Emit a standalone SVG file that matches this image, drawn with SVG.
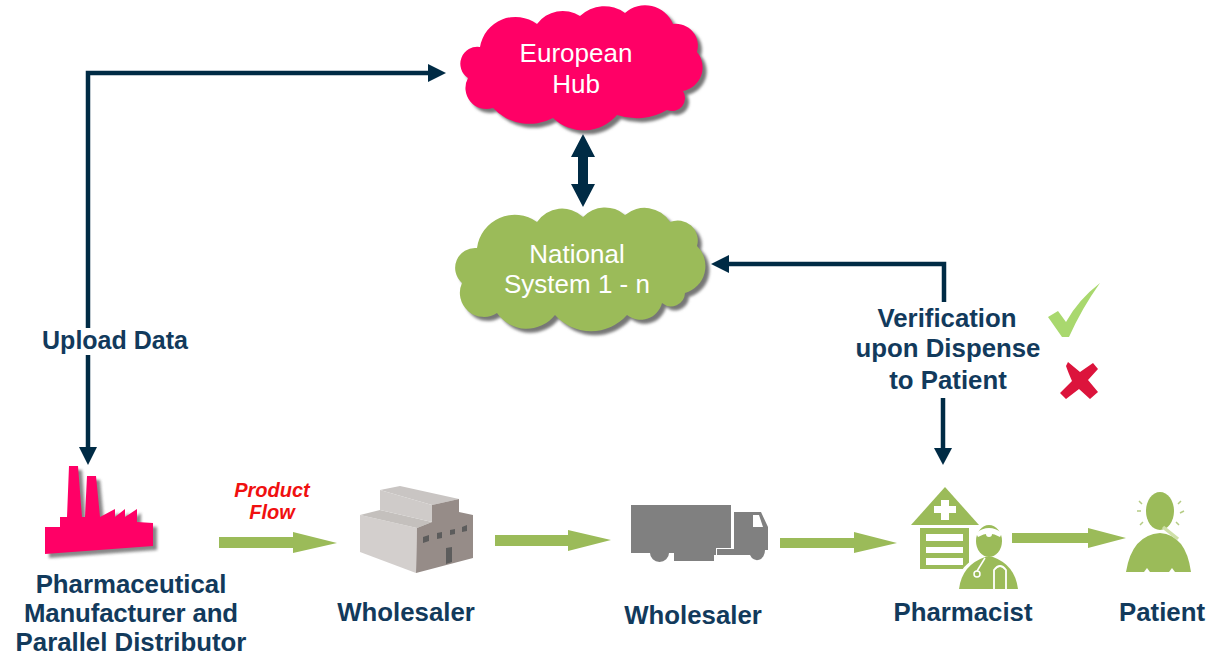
<svg xmlns="http://www.w3.org/2000/svg" width="1209" height="657" viewBox="0 0 1209 657">
<style>
text{font-family:"Liberation Sans",Arial,sans-serif;text-anchor:middle}
.lbl{font-size:25.8px;font-weight:bold;fill:#123a5c}
.cl{font-size:26px;fill:#fff}
.pf{font-size:20px;font-weight:bold;font-style:italic;fill:#f01010}
.nav{fill:none;stroke:#002b45;stroke-width:4.5}
.navh{fill:#002b45}
.g{fill:#9bbb59}
.w{fill:#fff}
</style>
<defs>
<filter id="sh" x="-10%" y="-10%" width="120%" height="120%"><feGaussianBlur stdDeviation="1.5"/></filter>
<path id="eu" d="M480 47A36 36 0 0 1 537 24A32 32 0 0 1 580 16A35 35 0 0 1 625 13A30 30 0 0 1 673 24A22 22 0 0 1 697 52A24 24 0 0 1 683 91A13 13 0 0 1 667 110A60 60 0 0 1 617 115A44 44 0 0 1 553 118A50 50 0 0 1 493 108A21 21 0 0 1 468 78A17 17 0 0 1 480 47Z"/>
<path id="na" d="M477 248A38 38 0 0 1 537 222A30 30 0 0 1 583 217A30 30 0 0 1 625 215A30 30 0 0 1 670 222A20 20 0 0 1 697 246A28 28 0 0 1 685 293A14 14 0 0 1 662 303A22 22 0 0 1 627 315A48 48 0 0 1 555 315A36 36 0 0 1 497 313A24 24 0 0 1 462 283A20 20 0 0 1 477 248Z"/>
</defs>
<rect width="1209" height="657" fill="#fff"/>
<g id="connectors">
<path class="nav" d="M88 328V73H430"/>
<path class="nav" d="M88 355V448"/>
<path class="navh" d="M428 64L446 73L428 82Z"/>
<path class="navh" d="M79 447H97L88 465Z"/>
<path class="navh" d="M583 134L595 157H588V184H595L583 207L571 184H578V157H571Z"/>
<path class="nav" d="M944 302V264H727"/>
<path class="navh" d="M729 255L711 264L729 273Z"/>
<path class="nav" d="M943 398V450"/>
<path class="navh" d="M934 448H952L943 465Z"/>
<path class="g" d="M219 537H293V532L337 543L293 553V548H219Z"/>
<path class="g" d="M495 535H568V530L611 540L568 551V546H495Z"/>
<path class="g" d="M780 538H854V532L897 543L854 553V548H780Z"/>
<path class="g" d="M1012 533H1088V528L1126 538L1088 548V543H1012Z"/>
</g>
<g id="european-hub">
<use href="#eu" transform="translate(4 4)" fill="#777" filter="url(#sh)"/>
<use href="#eu" fill="#ff0066"/>
<text class="cl" x="576" y="62">European</text>
<text class="cl" x="576" y="93">Hub</text>
</g>
<g id="national-system">
<use href="#na" transform="translate(4 4)" fill="#777" filter="url(#sh)"/>
<use href="#na" class="g"/>
<text class="cl" x="577" y="263">National</text>
<text class="cl" x="577" y="293">System 1 - n</text>
</g>
<g id="upload-label"><text class="lbl" style="font-size:25px" x="115" y="349">Upload Data</text></g>
<g id="verification-label">
<text class="lbl" x="947" y="327">Verification</text>
<text class="lbl" x="948" y="357">upon Dispense</text>
<text class="lbl" x="948" y="389">to Patient</text>
</g>
<g id="check-mark"><path fill="#a9d86e" d="M1048 317L1058 311L1066 322Q1078 300 1100 283Q1082 308 1069 337H1062Z"/></g>
<g id="cross-mark"><path fill="#dc143c" d="M1068 362L1080 372L1093 363L1098 369L1088 380L1098 392L1090 399L1079 389L1066 399L1060 393L1072 381Q1068 372 1066 366Z"/></g>
<g id="manufacturer">
<path fill="#555" opacity=".7" transform="translate(4 4)" filter="url(#sh)" d="M45 527H60V517H67L69 466H78L82 517H85L87 476H96L100 517L115 509V517L125 509V517L137 509V522L153 523V546L45 554Z"/>
<path fill="#ff0066" d="M45 527H60V517H67L69 466H78L82 517H85L87 476H96L100 517L115 509V517L125 509V517L137 509V522L153 523V546L45 554Z"/>
<text class="lbl" x="131" y="593">Pharmaceutical</text>
<text class="lbl" x="131" y="622" textLength="214">Manufacturer and</text>
<text class="lbl" x="131" y="651">Parallel Distributor</text>
</g>
<g id="product-flow"><text class="pf" x="272" y="497">Product</text><text class="pf" x="272" y="519">Flow</text></g>
<g id="wholesaler-1">
<path fill="#d3cfcd" d="M360 515L417 528L416 573L360 552Z"/>
<path fill="#c4c0bd" d="M360 515L380 510L432 522L417 528Z"/>
<path fill="#c9c5c3" d="M380 490L400 486L459 499L432 505Z"/>
<path fill="#cfcbc9" d="M380 490L432 505V522L380 510Z"/>
<path fill="#968c88" d="M432 505L459 499V512L473 515V558L416 573L417 528L432 522Z"/>
<path fill="#5c5c5c" d="M423 537L429 535V541L423 543ZM437 533L442 532V538L437 539ZM450 530L455 529V534L450 535ZM462 527L467 525V531L462 532ZM446 548L452 547V562L446 564Z"/>
<text class="lbl" x="406" y="621">Wholesaler</text>
</g>
<g id="wholesaler-2">
<path fill="#808080" d="M631 505H731V548H716V555H714V561H674V553H669A9.500 9 0 0 1 650 553H631Z"/>
<path fill="#808080" d="M734 512H761L768 527V550H765A8 10 0 0 1 750 555H717V549H734Z"/>
<path class="w" d="M753 515H759L763 527H753Z"/>
<text class="lbl" x="693" y="624">Wholesaler</text>
</g>
<g id="pharmacist">
<path class="g" d="M945 487L979 525H911Z"/>
<path class="w" d="M941 500H949V506H956V513H949V520H941V513H934V506H941Z"/>
<path class="g" d="M920 528H969V569H920Z"/>
<path class="w" d="M926 534H963V541H926ZM926 547H963V553H926ZM926 558H963V565H926Z"/>
<ellipse class="w" cx="989" cy="541" rx="17" ry="19"/>
<path class="w" d="M955 590Q958 562 985 555H995Q1020 562 1022 590Z"/>
<ellipse class="g" cx="989" cy="541" rx="13" ry="16"/>
<path class="w" d="M976 533Q989 523 1002 533L1000 537Q989 530 978 537Z"/>
<circle class="w" cx="989" cy="534" r="3"/>
<path class="g" d="M959 589Q962 565 985 557H993Q1015 565 1018 589Z"/>
<path d="M994 589V570Q1000 562 1006 570V589" fill="none" stroke="#fff" stroke-width="1.8"/>
<circle cx="977" cy="574" r="3" fill="none" stroke="#fff" stroke-width="1.5"/>
<path d="M977 571L985 558" fill="none" stroke="#fff" stroke-width="1.5"/>
<text class="lbl" x="963" y="621">Pharmacist</text>
</g>
<g id="patient">
<ellipse class="g" cx="1160" cy="511" rx="14" ry="19"/>
<path class="g" d="M1126 572Q1132 535 1160 533Q1186 535 1191 572H1175L1172 568L1169 572H1150L1147 568L1144 572Z"/>
<path d="M1163 527L1178 539" fill="none" stroke="#cfe0a8" stroke-width="3.500"/>
<path d="M1139 501L1142 504M1137 511H1141M1140 525L1143 522M1181 501L1178 504M1184 511L1180 513M1179 525L1176 522" fill="none" stroke="#b5cc85" stroke-width="1.500"/>
<text class="lbl" x="1162" y="621">Patient</text>
</g>
</svg>
